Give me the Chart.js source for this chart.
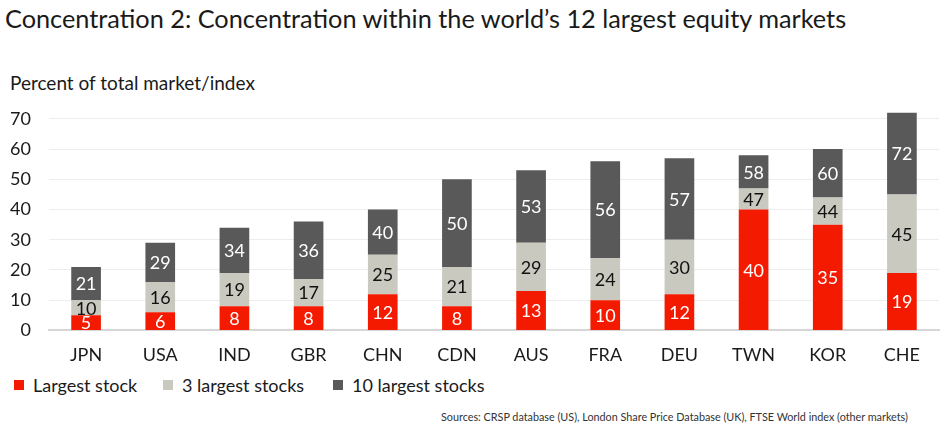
<!DOCTYPE html>
<html>
<head>
<meta charset="utf-8">
<script src="https://cdn.jsdelivr.net/npm/chart.js@4"></script>
<style>
  body { margin: 0; background: #fff; font-family: Lato, "Open Sans", sans-serif; }
  #wrap { position: relative; width: 949px; height: 436px; }
  #title { position: absolute; left: 5px; top: 3px; font-size: 25.3px; color: #1a1a1a; white-space: nowrap; }
  #ylab { position: absolute; left: 10px; top: 71px; font-size: 19px; color: #1a1a1a; }
  #src { position: absolute; left: 441px; top: 410px; font-size: 10.8px; color: #333; white-space: nowrap; }
  #chartBox { position: absolute; left: 0; top: 78px; width: 949px; height: 294px; }
  #legend { position: absolute; left: 0; top: 373px; height: 24px; width: 949px; }
  .item { position: absolute; top: 0; font-size: 18px; line-height: 24px; color: #1a1a1a; white-space: nowrap; }
  .sw { position: absolute; top: 7px; width: 10px; height: 10px; }
</style>
</head>
<body>
<div id="wrap">
  <div id="title">Concentration 2: Concentration within the world’s 12 largest equity markets</div>
  <div id="ylab">Percent of total market/index</div>
  <div id="chartBox"><canvas id="chart"></canvas></div>
  <div id="legend"></div>
  <div id="src">Sources: CRSP database (US), London Share Price Database (UK), FTSE World index (other markets)</div>
</div>
<script>
const markets = ["JPN", "USA", "IND", "GBR", "CHN", "CDN", "AUS", "FRA", "DEU", "TWN", "KOR", "CHE"];
const largest1 = [5, 6, 8, 8, 12, 8, 13, 10, 12, 40, 35, 19];
const largest3 = [10, 16, 19, 17, 25, 21, 29, 24, 30, 47, 44, 45];
const largest10 = [21, 29, 34, 36, 40, 50, 53, 56, 57, 58, 60, 72];
const yTicks = [0, 10, 20, 30, 40, 50, 60, 70];

const seriesNames = ["Largest stock", "3 largest stocks", "10 largest stocks"];
const cumulative = [largest1, largest3, largest10];
const colors = ["#f41a00", "#c9c9bf", "#595959"];
const labelColors = ["#ffffff", "#111111", "#ffffff"];
const legendX = [14, 163, 333];

// stacked segments are the differences between the cumulative shares
const segments = [
    largest1,
    largest3.map((v, i) => v - largest1[i]),
    largest10.map((v, i) => v - largest3[i])
];

// legend row under the axis
const legendEl = document.getElementById("legend");
seriesNames.forEach((name, d) => {
    const item = document.createElement("div");
    item.className = "item";
    item.style.left = legendX[d] + "px";
    item.innerHTML = `<span class="sw" style="background:${colors[d]}"></span><span style="margin-left:19px">${name}</span>`;
    legendEl.appendChild(item);
});

// write the cumulative value in the middle of each segment
const valueLabels = {
    id: "valueLabels",
    afterDatasetsDraw(chart) {
        const ctx = chart.ctx;
        ctx.save();
        ctx.font = "18px Lato, 'Open Sans', sans-serif";
        ctx.textAlign = "center";
        ctx.textBaseline = "middle";
        chart.data.datasets.forEach((ds, d) => {
            chart.getDatasetMeta(d).data.forEach((bar, i) => {
                ctx.fillStyle = labelColors[d];
                ctx.fillText(cumulative[d][i], bar.x, (bar.y + bar.base) / 2 + 1);
            });
        });
        ctx.restore();
    }
};

new Chart(document.getElementById("chart"), {
    type: "bar",
    data: {
        labels: markets,
        datasets: seriesNames.map((name, d) => ({
            label: name,
            data: segments[d],
            backgroundColor: colors[d],
            barPercentage: 0.4,
            categoryPercentage: 1.0
        }))
    },
    options: {
        responsive: true,
        maintainAspectRatio: false,
        animation: false,
        layout: { padding: { left: 5, right: 10, top: 0, bottom: 0 } },
        plugins: {
            legend: { display: false },
            tooltip: { enabled: false }
        },
        scales: {
            x: {
                stacked: true,
                grid: { display: false },
                border: { color: "#d6d6d6", width: 2 },
                ticks: { color: "#1a1a1a", padding: 6, font: { size: 18, family: "Lato, 'Open Sans', sans-serif" } }
            },
            y: {
                stacked: true,
                min: 0,
                max: 74,
                afterBuildTicks(axis) {
                    axis.ticks = yTicks.map(v => ({ value: v }));
                },
                afterFit(axis) {
                    axis.width = 44;
                },
                grid: { color: "#ededed", drawTicks: false },
                border: { display: false },
                ticks: { color: "#1a1a1a", padding: 18, font: { size: 18, family: "Lato, 'Open Sans', sans-serif" } }
            }
        }
    },
    plugins: [valueLabels]
});
</script>
</body>
</html>
